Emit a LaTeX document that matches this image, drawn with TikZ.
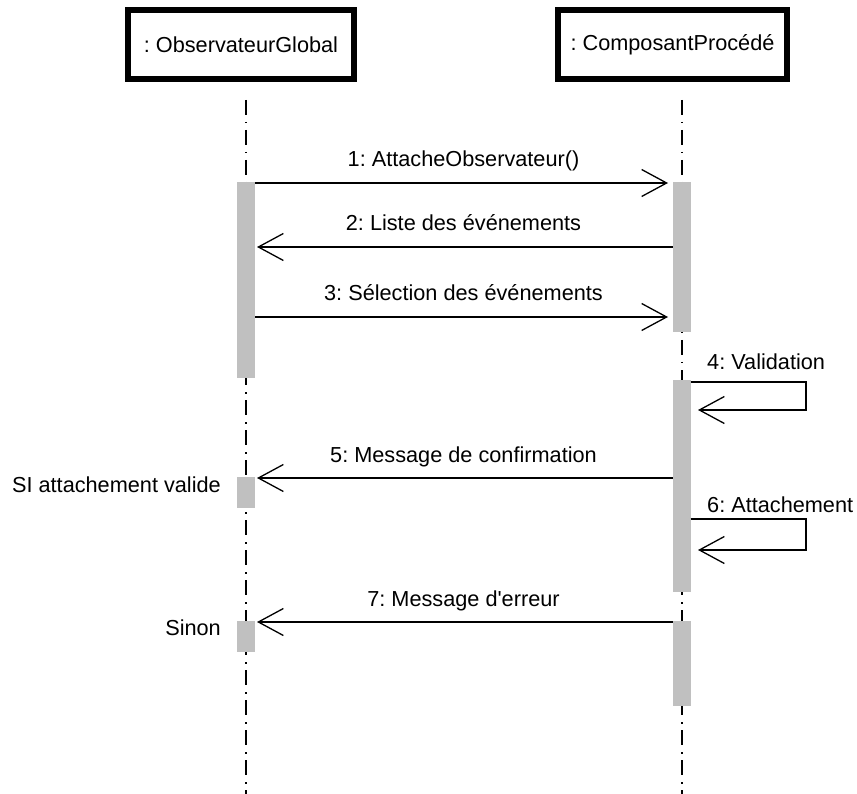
\documentclass[tikz,border=0pt]{standalone}
\usepackage{fontspec}
\setmainfont{Liberation Sans}
\usetikzlibrary{arrows.meta}
\definecolor{barGray}{RGB}{192,192,192}
\tikzset{
  objbox/.style={draw=black, line width=6pt, inner sep=0pt, minimum height=69pt, font=\fontsize{21.7}{26}\selectfont},
  lifeline/.style={line width=2pt, dash pattern=on 15pt off 7pt on 1.5pt off 6.5pt},
  actbar/.style={fill=barGray, draw=none, inner sep=0pt, minimum width=18pt},
  msg/.style={line width=1.3pt, -{Straight Barb[length=25pt,width=27pt,line width=1.3pt]}},
  lbl/.style={inner sep=0pt, font=\fontsize{21.7}{26}\selectfont}
}
\frenchspacing
\begin{document}
\begin{tikzpicture}[x=1pt,y=-1pt]
\useasboundingbox (0,0) rectangle (857,794);

% objects
\node[objbox, minimum width=226pt] (obs) at (241,44.5) {: ObservateurGlobal};
\node[objbox, minimum width=229pt] (comp) at (672.5,44.5) {: ComposantProcédé};

% lifelines
\coordinate (obsTop) at (246,100);
\coordinate (obsBot) at (246,794);
\coordinate (compTop) at (681.5,100);
\coordinate (compBot) at (681.5,794);
\draw[lifeline] (obsTop) -- (obsBot);
\draw[lifeline] (compTop) -- (compBot);

% activation bars
\node[actbar, anchor=north, minimum height=196pt] (A1) at (246,182) {};
\node[actbar, anchor=north, minimum height=31pt] (A2) at (246,477) {};
\node[actbar, anchor=north, minimum height=31pt] (A3) at (246,621) {};
\node[actbar, anchor=north, minimum height=150pt] (B1) at (681.5,182) {};
\node[actbar, anchor=north, minimum height=212pt] (B2) at (681.5,380) {};
\node[actbar, anchor=north, minimum height=85pt] (B3) at (681.5,621) {};

% message end points
\coordinate (m1a) at (255,183);   \coordinate (m1b) at (668,183);
\coordinate (m2a) at (672.5,247); \coordinate (m2b) at (257,247);
\coordinate (m3a) at (255,317);   \coordinate (m3b) at (668,317);
\coordinate (m4a) at (690.5,382); \coordinate (m4c) at (806,382);
\coordinate (m4d) at (806,410);   \coordinate (m4b) at (698,410);
\coordinate (m5a) at (672.5,478); \coordinate (m5b) at (257,478);
\coordinate (m6a) at (690.5,519); \coordinate (m6c) at (806,519);
\coordinate (m6d) at (806,550);   \coordinate (m6b) at (698,550);
\coordinate (m7a) at (672.5,622); \coordinate (m7b) at (257,622);

% messages
\draw[msg] (m1a) -- (m1b);
\draw[msg] (m2a) -- (m2b);
\draw[msg] (m3a) -- (m3b);
\draw[msg] (m4a) -- (m4c) -- (m4d) -- (m4b);
\draw[msg] (m5a) -- (m5b);
\draw[msg] (m6a) -- (m6c) -- (m6d) -- (m6b);
\draw[msg] (m7a) -- (m7b);

% message labels
\node[lbl, anchor=base] (t1) at (463.5,167) {1: AttacheObservateur()};
\node[lbl, anchor=base] (t2) at (463.5,231) {2: Liste des événements};
\node[lbl, anchor=base] (t3) at (463.5,301) {3: Sélection des événements};
\node[lbl, anchor=base west] (t4) at (707,370) {4: Validation};
\node[lbl, anchor=base] (t5) at (463.5,462) {5: Message de confirmation};
\node[lbl, anchor=base west] (t6) at (707,512) {6: Attachement};
\node[lbl, anchor=base] (t7) at (463.5,606) {7: Message d\textquotesingle erreur};

% guard labels
\node[lbl, anchor=base east] (g1) at (221,492) {SI attachement valide};
\node[lbl, anchor=base east] (g2) at (221,635) {Sinon};
\end{tikzpicture}
\end{document}
